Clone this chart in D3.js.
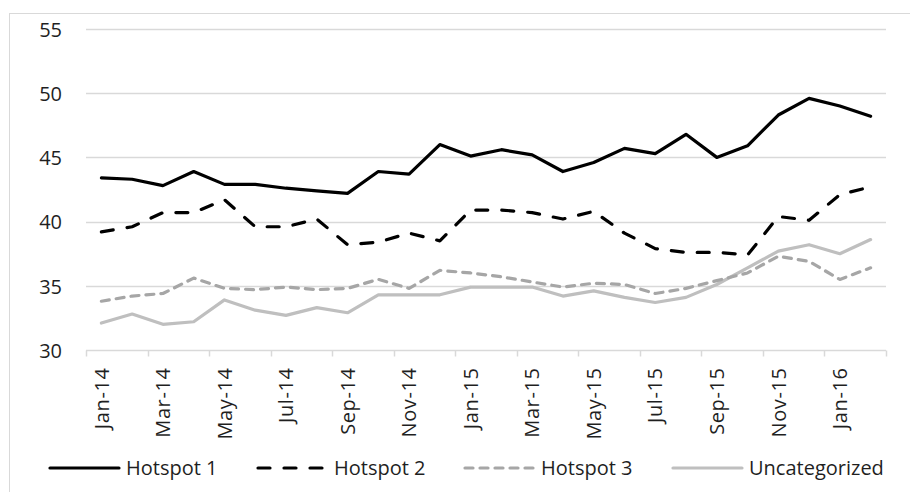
<!DOCTYPE html>
<html>
<head>
<meta charset="utf-8">
<script src="https://cdn.jsdelivr.net/npm/d3@7"></script>
<style>
  html, body { margin: 0; padding: 0; background: #fff; }
  svg text { font-family: "Open Sans", "Lato", sans-serif; fill: #1f1f1f; }
</style>
</head>
<body>
<svg id="chart" width="910" height="492"></svg>
<script>
// Monthly categories, Jan-2014 .. Feb-2016
const months = ["Jan-14","Feb-14","Mar-14","Apr-14","May-14","Jun-14","Jul-14","Aug-14","Sep-14","Oct-14","Nov-14","Dec-14",
                "Jan-15","Feb-15","Mar-15","Apr-15","May-15","Jun-15","Jul-15","Aug-15","Sep-15","Oct-15","Nov-15","Dec-15",
                "Jan-16","Feb-16"];

const hotspot1 = [43.4,43.3,42.8,43.9,42.9,42.9,42.6,42.4,42.2,43.9,43.7,46.0,
                  45.1,45.6,45.2,43.9,44.6,45.7,45.3,46.8,45.0,45.9,48.3,49.6,49.0,48.2];
const hotspot2 = [39.2,39.6,40.7,40.7,41.7,39.6,39.6,40.2,38.2,38.4,39.1,38.5,
                  40.9,40.9,40.7,40.2,40.8,39.1,37.9,37.6,37.6,37.4,40.4,40.1,42.1,42.7];
const hotspot3 = [33.8,34.2,34.4,35.6,34.8,34.7,34.9,34.7,34.8,35.5,34.8,36.2,
                  36.0,35.7,35.3,34.9,35.2,35.1,34.4,34.8,35.4,36.0,37.3,36.9,35.5,36.4];
const uncategorized = [32.1,32.8,32.0,32.2,33.9,33.1,32.7,33.3,32.9,34.3,34.3,34.3,
                       34.9,34.9,34.9,34.2,34.6,34.1,33.7,34.1,35.1,36.4,37.7,38.2,37.5,38.6];

const yTicks = [30, 35, 40, 45, 50, 55];
const xTickLabels = months.filter((d, i) => i % 2 === 0);

const seriesNames = ["Hotspot 1", "Hotspot 2", "Hotspot 3", "Uncategorized"];

const series = [
  { name: seriesNames[0], values: hotspot1,      color: "#000000", dash: null },
  { name: seriesNames[1], values: hotspot2,      color: "#000000", dash: "12,14" },
  { name: seriesNames[2], values: hotspot3,      color: "#a6a6a6", dash: "8,7" },
  { name: seriesNames[3], values: uncategorized, color: "#bfbfbf", dash: null }
];

const FONT = 20;
const svg = d3.select("#chart");
const W = 910, H = 492;
const plot = { left: 86, right: 886, top: 29, bottom: 350 };

// Outer chart-area border
svg.append("rect")
  .attr("x", 9.5).attr("y", 13.5)
  .attr("width", W).attr("height", H)
  .attr("fill", "none").attr("stroke", "#d9d9d9").attr("stroke-width", 1);

const x = d3.scaleBand().domain(months).range([plot.left, plot.right]).padding(0);
const y = d3.scaleLinear().domain([30, 55]).range([plot.bottom, plot.top]);
const cx = d => x(d) + x.bandwidth() / 2;

// Horizontal gridlines
svg.append("g")
  .selectAll("line")
  .data(yTicks.filter(v => v > 30))
  .join("line")
  .attr("x1", plot.left).attr("x2", plot.right)
  .attr("y1", d => Math.round(y(d)) + 0.5).attr("y2", d => Math.round(y(d)) + 0.5)
  .attr("stroke", "#d9d9d9").attr("stroke-width", 1.5);

// Y axis labels
const yAxis = d3.axisLeft(y).tickValues(yTicks).tickSize(0).tickPadding(0);
const yG = svg.append("g").attr("transform", `translate(${plot.left - 24},0)`).call(yAxis);
yG.select(".domain").remove();
yG.selectAll("text").attr("font-size", FONT).attr("dy", "0.36em")
  .style("font-family", "'Open Sans', Lato, sans-serif").attr("fill", "#1f1f1f");

// X axis line and tick marks at category boundaries (every second month)
const axisY = Math.round(y(30)) + 0.5;
svg.append("line")
  .attr("x1", plot.left).attr("x2", plot.right)
  .attr("y1", axisY).attr("y2", axisY)
  .attr("stroke", "#d9d9d9").attr("stroke-width", 1.5);

const boundaries = months.map((m, i) => i).filter(i => i % 2 === 0).map(i => x(months[i])).concat([plot.right]);
svg.append("g").selectAll("line")
  .data(boundaries)
  .join("line")
  .attr("x1", d => Math.round(d) + 0.5).attr("x2", d => Math.round(d) + 0.5)
  .attr("y1", axisY).attr("y2", axisY + 6)
  .attr("stroke", "#d9d9d9").attr("stroke-width", 1.5);

// Rotated month labels
svg.append("g").selectAll("text")
  .data(xTickLabels)
  .join("text")
  .attr("transform", d => `translate(${cx(d)},${axisY + 17}) rotate(-90)`)
  .attr("text-anchor", "end")
  .attr("dy", "0.36em")
  .attr("font-size", FONT)
  .attr("letter-spacing", 0.6)
  .text(d => d);

// Series lines
const line = d3.line()
  .x((d, i) => cx(months[i]))
  .y(d => y(d));

svg.append("g").selectAll("path")
  .data(series.slice().reverse())
  .join("path")
  .attr("d", d => line(d.values))
  .attr("fill", "none")
  .attr("stroke", d => d.color)
  .attr("stroke-width", 3.2)
  .attr("stroke-linejoin", "round")
  .attr("stroke-linecap", "round")
  .attr("stroke-dasharray", d => d.dash);

// Legend
const legendY = 468;
const legendX = [50, 258, 465, 673];
const lg = svg.append("g").selectAll("g")
  .data(series)
  .join("g")
  .attr("transform", (d, i) => `translate(${legendX[i]},${legendY})`);

lg.append("line")
  .attr("x1", 0).attr("x2", 69)
  .attr("y1", 0).attr("y2", 0)
  .attr("stroke", d => d.color)
  .attr("stroke-width", 3.2)
  .attr("stroke-linecap", "round")
  .attr("stroke-dasharray", d => d.dash);

lg.append("text")
  .attr("x", 76)
  .attr("dy", "0.36em")
  .attr("font-size", FONT)
  .text(d => d.name);
</script>
</body>
</html>
